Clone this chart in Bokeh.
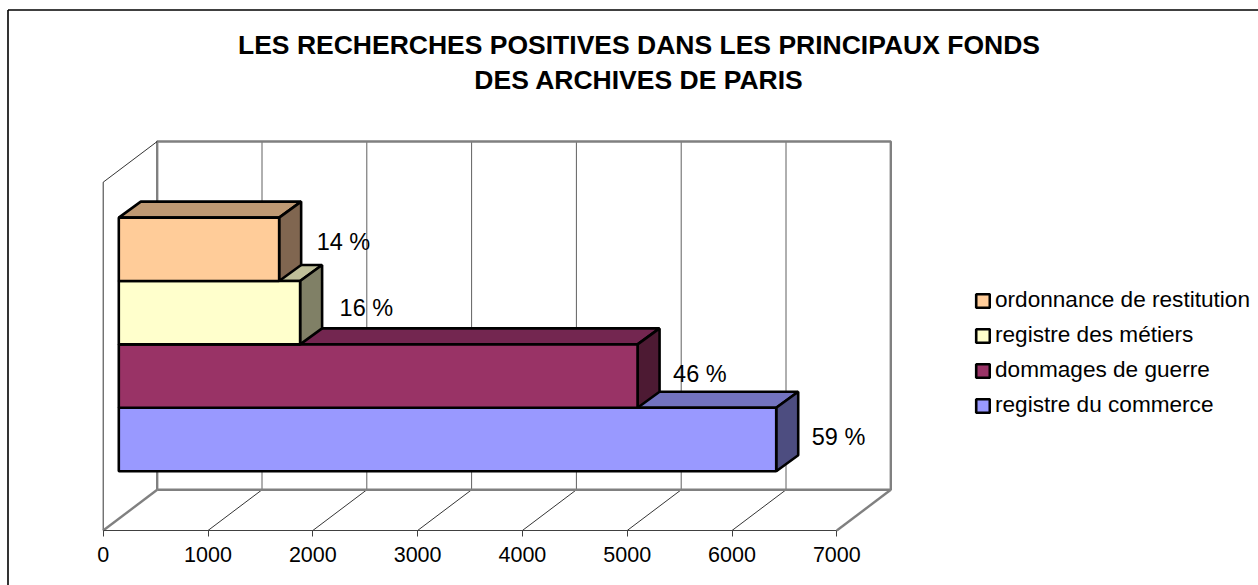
from bokeh.plotting import figure
from bokeh.models import Range1d, LinearAxis, FixedTicker, Legend, LegendItem
from bokeh.core.properties import value
from bokeh.embed import file_html
from bokeh.resources import INLINE

title_lines = ["LES RECHERCHES POSITIVES DANS LES PRINCIPAUX FONDS", "DES ARCHIVES DE PARIS"]
series = ["ordonnance de restitution", "registre des métiers", "dommages de guerre", "registre du commerce"]
values = [1530, 1730, 4950, 6273]
percent = ["14 %", "16 %", "46 %", "59 %"]
ticks = [0, 1000, 2000, 3000, 4000, 5000, 6000, 7000]
front_col = ["#FFCC99", "#FFFFCC", "#993366", "#9999FF"]
top_col = ["#BF9973", "#BFBF99", "#732650", "#7373BF"]
side_col = ["#806650", "#808066", "#4D1A33", "#4D4D80"]

FONT = value("Liberation Sans")
W, H = 1258, 585
SCALE = 0.1048           # px per unit
X0 = 102.7               # page px of value 0
FLOOR, TOP = 530.0, 181.7
DX, DY = 54.0, 40.7      # wall depth in px
BDX, BDY = 22.0, 16.0    # bar depth in px
BAR_X = 15.6             # px offset of bars from the front plane
BAR_BOTTOM, BAR_H = 470.7, 63.4
LABEL_DX = [37.5, 39.5, 35.5, 35.5]
LABEL_Y = [241, 307, 373, 436]


def u(px):
    return px / SCALE


p = figure(width=W, height=H, output_backend="svg", toolbar_location=None,
           x_range=Range1d(u(0 - X0), u(W - X0)), y_range=Range1d(H, 0),
           x_axis_type=None, y_axis_type=None, min_border=0,
           outline_line_color=None, background_fill_color="white", border_fill_color="white")
p.grid.visible = False

# chart frame (left and top)
p.line([u(7.5 - X0), u(7.5 - X0)], [H, 9.5], line_color="black", line_width=1.6)
p.line([u(7.5 - X0), u(W - X0)], [9.5, 9.5], line_color="black", line_width=1.6)

vmax = ticks[-1]
# back wall grid lines and floor diagonals
for t in ticks[1:-1]:
    p.line([t + u(DX)] * 2, [FLOOR - DY, TOP - DY], line_color="#606060", line_width=1)
    p.line([t, t + u(DX)], [FLOOR, FLOOR - DY], line_color="black", line_width=0.8)
# back wall border
p.line([u(DX), u(DX), vmax + u(DX), vmax + u(DX), u(DX)],
       [FLOOR - DY, TOP - DY, TOP - DY, FLOOR - DY, FLOOR - DY],
       line_color="#808080", line_width=2.4)
# left side wall and floor edges
p.line([0, 0], [FLOOR, TOP], line_color="black", line_width=0.8)
p.line([0, u(DX)], [TOP, TOP - DY], line_color="black", line_width=0.8)
p.line([0, u(DX)], [FLOOR, FLOOR - DY], line_color="#808080", line_width=2.4)
p.line([vmax, vmax + u(DX)], [FLOOR, FLOOR - DY], line_color="#808080", line_width=2.4)

# x axis on the front floor edge
axis = LinearAxis(fixed_location=FLOOR, ticker=FixedTicker(ticks=ticks), bounds=(0, vmax),
                  axis_line_color="#404040", axis_line_width=1,
                  major_tick_line_color="#404040", major_tick_in=0, major_tick_out=6,
                  minor_tick_line_color=None, major_label_standoff=10,
                  major_label_text_font="Liberation Sans", major_label_text_font_size="21.5px",
                  major_label_text_color="black")
p.add_layout(axis, "below")

# 3D bars, lowest first so each upper front covers the top face below it
fronts = [None] * len(values)
start = u(BAR_X)
for i in reversed(range(len(values))):
    v = values[i]
    bottom = BAR_BOTTOM - BAR_H * (len(values) - 1 - i)
    top = bottom - BAR_H
    end = start + v
    lw = 2.6
    p.patch([start, start + u(BDX), end + u(BDX), end], [top, top - BDY, top - BDY, top],
            fill_color=top_col[i], line_color="black", line_width=lw)
    p.patch([end, end + u(BDX), end + u(BDX), end], [top, top - BDY, bottom - BDY, bottom],
            fill_color=side_col[i], line_color="black", line_width=lw)
    fronts[i] = p.quad(left=[start], right=[end], top=[top], bottom=[bottom],
                       fill_color=front_col[i], line_color="black", line_width=lw)
for i, v in enumerate(values):
    p.text([start + v + u(LABEL_DX[i])], [LABEL_Y[i]], text=[percent[i]], text_font=FONT,
           text_font_size="23.5px", text_color="black", text_align="left", text_baseline="middle")

# title
for line, y in zip(title_lines, [44, 79]):
    p.text([u(638.5 - X0)], [y], text=[line], text_font=FONT, text_font_style="bold",
           text_font_size="26.5px", text_color="black", text_align="center", text_baseline="middle")

legend = Legend(items=[LegendItem(label=s, renderers=[r]) for s, r in zip(series, fronts)],
                location=(974, H - 418), orientation="vertical", border_line_color=None,
                background_fill_alpha=0, margin=0, padding=0, spacing=9,
                glyph_width=17, glyph_height=17, label_height=24, label_standoff=4,
                label_text_font="Liberation Sans", label_text_font_size="22.6px",
                label_text_color="black")
p.add_layout(legend, "center")

open("out.html", "w").write(file_html(p, INLINE))
